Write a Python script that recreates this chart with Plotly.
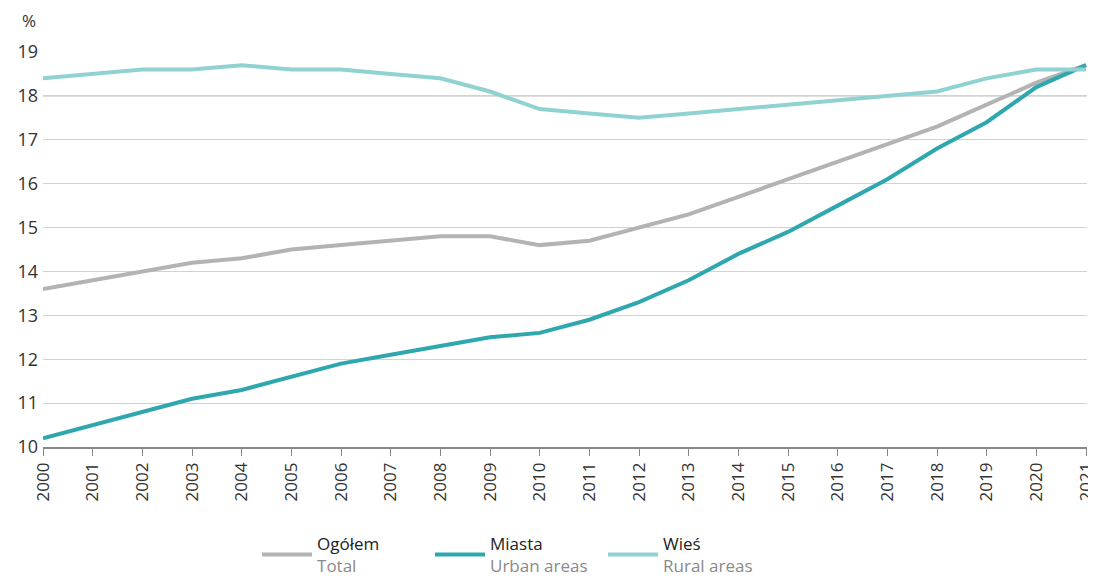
import plotly.graph_objects as go

years = list(range(2000, 2022))
total = [13.6, 13.8, 14.0, 14.2, 14.3, 14.5, 14.6, 14.7, 14.8, 14.8, 14.6,
         14.7, 15.0, 15.3, 15.7, 16.1, 16.5, 16.9, 17.3, 17.8, 18.3, 18.7]
urban = [10.2, 10.5, 10.8, 11.1, 11.3, 11.6, 11.9, 12.1, 12.3, 12.5, 12.6,
         12.9, 13.3, 13.8, 14.4, 14.9, 15.5, 16.1, 16.8, 17.4, 18.2, 18.7]
rural = [18.4, 18.5, 18.6, 18.6, 18.7, 18.6, 18.6, 18.5, 18.4, 18.1, 17.7,
         17.6, 17.5, 17.6, 17.7, 17.8, 17.9, 18.0, 18.1, 18.4, 18.6, 18.6]

series = [
    ("Ogółem", "Total", total, "#b3b3b3"),
    ("Miasta", "Urban areas", urban, "#2fa7ae"),
    ("Wieś", "Rural areas", rural, "#90d2d2"),
]

fig = go.Figure()
for pl, en, vals, color in series:
    fig.add_trace(go.Scatter(x=years, y=vals, mode="lines",
                             line=dict(color=color, width=4),
                             name=f"{pl}<br><span style='color:#8a8a8a'>{en}</span>"))

# darker reference line at 18
fig.add_hline(y=18, line=dict(color="#a8a8a8", width=1), layer="below")

fig.add_annotation(text="%", xref="paper", yref="paper", x=-0.022, y=1.045,
                   xanchor="left", yanchor="bottom", showarrow=False,
                   font=dict(size=17, color="#333333"))

# the page body adds ~8px offset, so the figure is a bit smaller than the window
fig.update_layout(
    width=1088, height=568,
    margin=dict(l=35, r=9, t=44, b=129, autoexpand=False),
    paper_bgcolor="white", plot_bgcolor="white",
    font=dict(family="Open Sans", size=17, color="#333333"),
    showlegend=True,
    legend=dict(orientation="h", x=0.205, xanchor="left", y=-0.2, yanchor="top",
                font=dict(size=17, color="#222222"),
                itemwidth=50,
                entrywidth=108, entrywidthmode="pixels",
                tracegroupgap=0),
    xaxis=dict(range=[2000, 2021.02], tickmode="array", tickvals=years,
               ticktext=[str(y) for y in years], tickangle=-90,
               tickfont=dict(size=17, color="#333333"), automargin=False,
               ticklabeloverflow="allow",
               showgrid=False, showline=True, linecolor="#888888", linewidth=1.5,
               ticks="outside", ticklen=7, tickcolor="#888888", zeroline=False),
    yaxis=dict(range=[10, 19], dtick=1, showgrid=True, gridcolor="#d2d2d2",
               gridwidth=1, zeroline=False, showline=False, ticks="",
               tickfont=dict(size=18, color="#333333"), automargin=False,
               ticklabelstandoff=4),
)

fig.write_html("out.html")
